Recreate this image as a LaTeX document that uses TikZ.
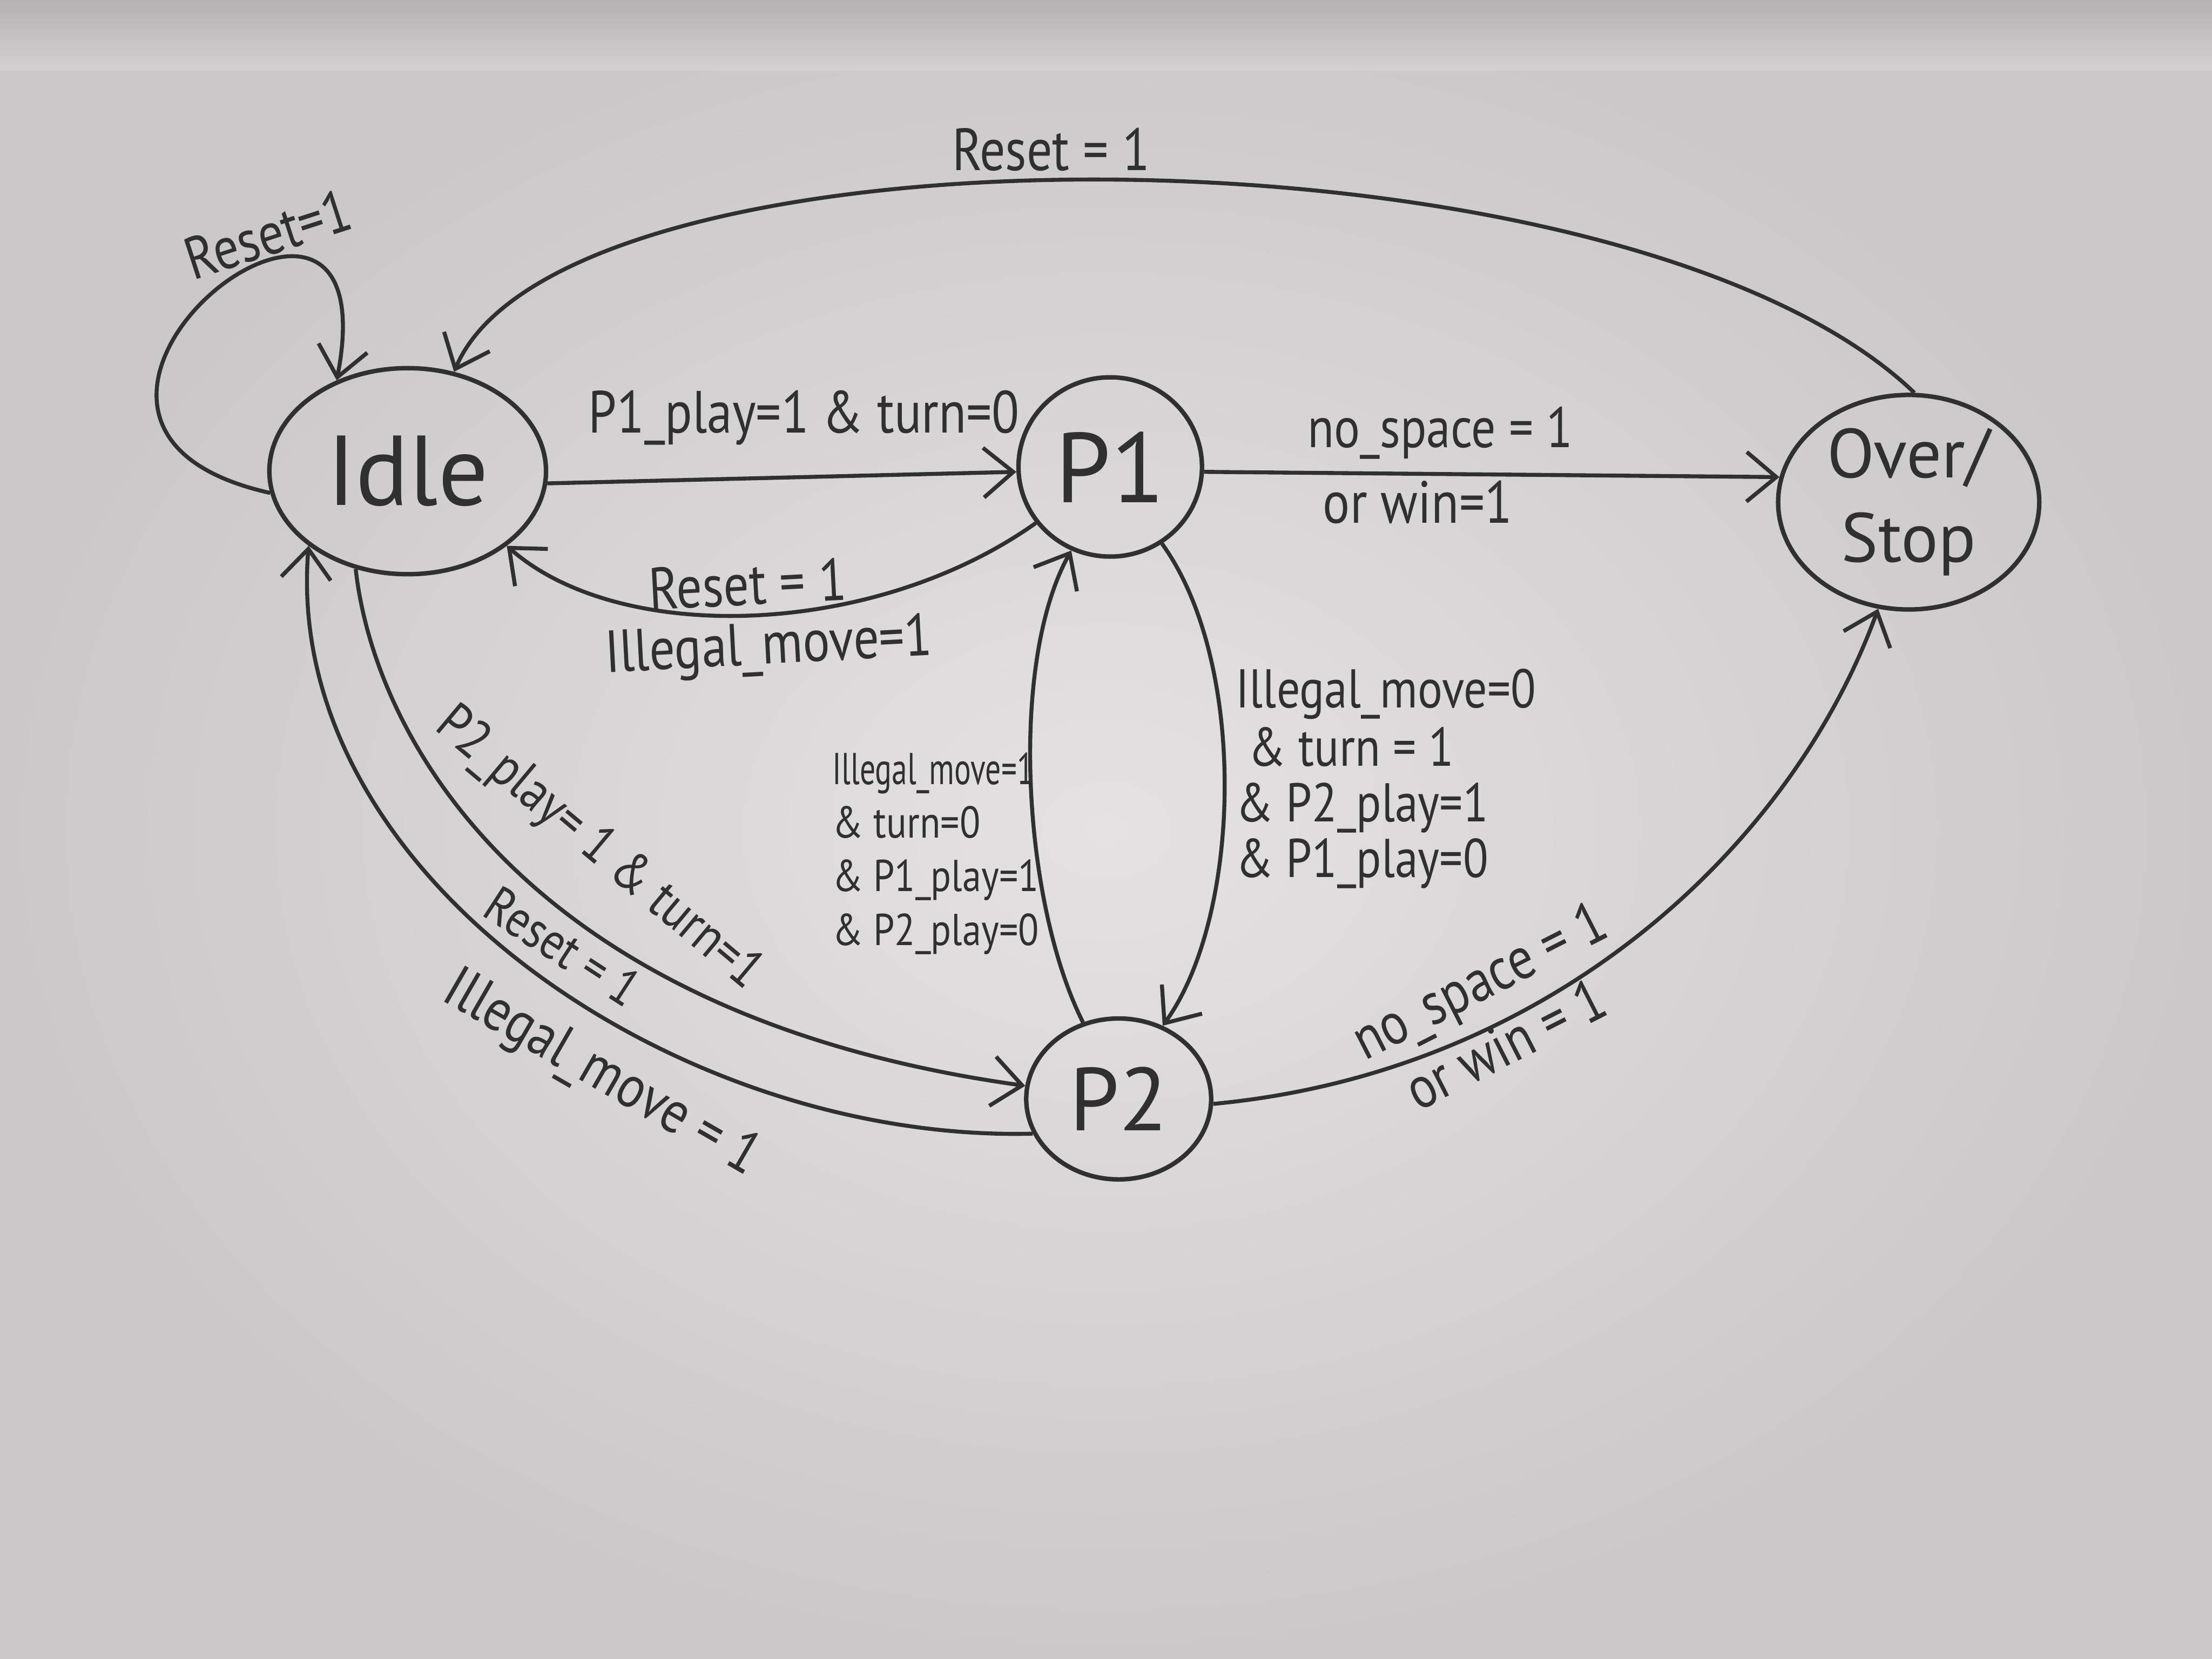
\documentclass[tikz,border=0pt]{standalone}
\usepackage{fontspec}
\newfontfamily\hand[FakeStretch=0.85]{PT Sans}
\newfontfamily\handw{PT Sans}
\usetikzlibrary{arrows.meta,shapes.geometric}
\definecolor{ink}{HTML}{303030}
\definecolor{bgin}{HTML}{E4E2E2}
\definecolor{bgout}{HTML}{CAC8C8}
\definecolor{bgtop}{HTML}{B4B2B2}
\begin{document}
\begin{tikzpicture}[x=0.01cm,y=-0.01cm,
  state/.style={ellipse, draw=ink, line width=0.9pt, inner sep=0pt, text=ink},
  edge/.style={draw=ink, line width=0.8pt, -{Straight Barb[length=6pt,width=10pt,line width=0.8pt]}},
  lbl/.style={font=\hand\fontsize{12}{13}\selectfont, text=ink, inner sep=1pt},
  lblsmall/.style={font=\hand\fontsize{9}{10.8}\selectfont, text=ink, inner sep=1pt, align=left},
  lblmid/.style={font=\hand\fontsize{11}{11.2}\selectfont, text=ink, inner sep=1pt, align=left}]
\useasboundingbox (0,0) rectangle (1568,1176);
\shade[inner color=bgin, outer color=bgout] (0,0) rectangle (1568,1176);
\shade[top color=bgtop, bottom color=bgout!70!bgin] (0,0) rectangle (1568,50);

% states
\node[state, minimum width=1.96cm, minimum height=1.46cm, font=\handw\fontsize{20}{22}\selectfont] (Idle) at (289,334) {Idle};
\node[state, minimum width=1.30cm, minimum height=1.27cm, font=\handw\fontsize{20}{22}\selectfont] (P1) at (787,331) {P1};
\node[state, minimum width=1.31cm, minimum height=1.14cm, font=\handw\fontsize{18}{20}\selectfont] (P2) at (793,779) {P2};
\node[state, minimum width=1.85cm, minimum height=1.52cm, align=center, font=\handw\fontsize{14}{17}\selectfont] (Over) at (1353,356) {Over/\\Stop};

% self loop on Idle
\draw[edge] (Idle.189) .. controls (-30,300) and (280,55) .. (Idle.128);
\node[lbl, rotate=18] (lReset0) at (190,166) {Reset=1};

% Over -> Idle
\draw[edge] (Over.87) .. controls (1150,80) and (400,80) .. (Idle.65);
\node[lbl] (lReset1) at (745,106) {Reset = 1};

% Idle -> P1
\draw[edge] (Idle.-5) -- (P1.183);
\node[lbl] (lP1) at (570,296) {P1\_play=1 \& turn=0};

% P1 -> Idle
\draw[edge] (P1.217) .. controls (620,452) and (440,458) .. (Idle.-37);
\node[lbl, rotate=3] (lReset2) at (530,414) {Reset = 1};
\node[lbl, rotate=3] (lIll2) at (545,460) {Illegal\_move=1};

% P1 -> Over
\draw[edge] (P1.-3) -- (Over.169);
\node[lbl, font=\hand\fontsize{11.5}{13}\selectfont] (lNo1) at (1021,307) {no\_space = 1};
\node[lbl] (lWin1) at (1005,356) {or win=1};

% P1 -> P2
\draw[edge] (P1.-56) .. controls (885,470) and (880,650) .. (P2.59);
\node[lblmid, anchor=west] (lP1P2) at (872,552) {Illegal\_move=0\\[0.5pt]\ \& turn = 1\\ \& P2\_play=1\\ \& P1\_play=0};

% P2 -> P1
\draw[edge] (P2.115) .. controls (725,640) and (715,470) .. (P1.245);
\node[lblsmall, anchor=west] (lP2P1) at (586,605) {\scalebox{0.82}[1]{Illegal\_move=1}\\ \& turn=0\\ \& P1\_play=1\\ \& P2\_play=0};

% Idle -> P2
\draw[edge] (Idle.242) .. controls (265,520) and (370,720) .. (P2.172);
\node[lbl, font=\hand\fontsize{11}{12}\selectfont, rotate=-40] (lP2) at (424,602) {P2\_play= 1 \& turn=1};

% P2 -> Idle
\draw[edge] (P2.202) .. controls (480,810) and (200,620) .. (Idle.217);
\node[lbl, font=\hand\fontsize{10.5}{12}\selectfont, rotate=-33] (lReset3) at (399,671) {Reset = 1};
\node[lbl, rotate=-30] (lIll3) at (426,762) {Illegal\_move = 1};

% P2 -> Over
\draw[edge] (P2.357) .. controls (1100,760) and (1270,600) .. (Over.254);
\node[lbl, rotate=27] (lNo2) at (1050,698) {no\_space = 1};
\node[lbl, rotate=27] (lWin2) at (1067,740) {or win = 1};
\end{tikzpicture}
\end{document}
